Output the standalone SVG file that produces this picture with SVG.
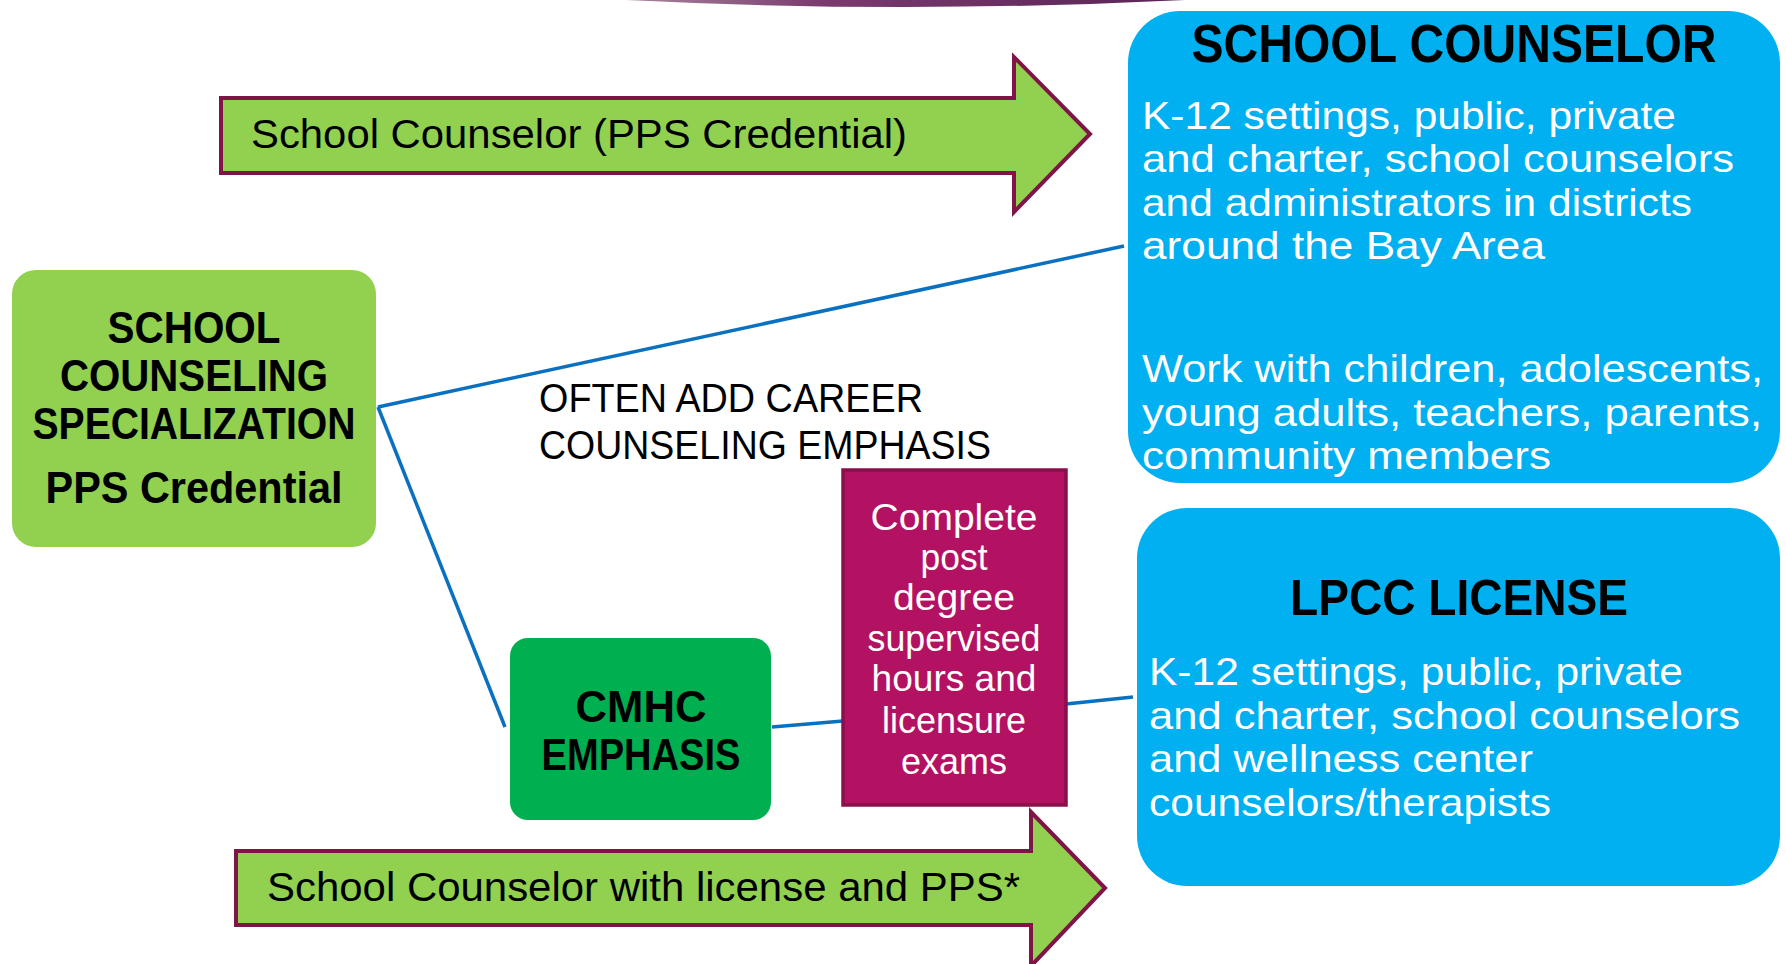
<svg xmlns="http://www.w3.org/2000/svg" width="1786" height="964" viewBox="0 0 1786 964">
<defs>
<linearGradient id="arcg" x1="0" y1="0" x2="1" y2="0">
<stop offset="0" stop-color="#a888a0"/>
<stop offset="0.35" stop-color="#7a3a6e"/>
<stop offset="1" stop-color="#5a2456"/>
</linearGradient>
</defs>
<style>
.arrow{fill:#92d050;stroke:#7f1447;stroke-width:4;stroke-linejoin:miter}
.conn{stroke:#0a70c0;stroke-width:3.5;fill:none}
.t{font-family:"Liberation Sans",Arial,sans-serif}
.b{font-weight:bold;fill:#000}
.w{fill:#fff}
.k{fill:#000}
</style>
<rect width="1786" height="964" fill="#fff"/>
<path d="M626,0 Q905,14 1185,0 Z" fill="url(#arcg)"/>

<g id="connectors">
<line class="conn" x1="378" y1="407" x2="1124" y2="246"/>
<line class="conn" x1="378" y1="407" x2="505" y2="727"/>
<line class="conn" x1="772" y1="727" x2="843" y2="721"/>
<line class="conn" x1="1066" y1="704" x2="1133" y2="697"/>
</g>

<g id="arrow-top">
<polygon class="arrow" points="221,98 1014,98 1014,57 1090,134 1014,212 1014,173 221,173"/>
<text class="t k" x="251" y="148" font-size="40" textLength="656" lengthAdjust="spacingAndGlyphs">School Counselor (PPS Credential)</text>
</g>

<g id="arrow-bottom">
<polygon class="arrow" points="236,851 1031,851 1031,812 1105,888 1031,966 1031,925 236,925"/>
<text class="t k" x="267" y="901" font-size="40" textLength="753" lengthAdjust="spacingAndGlyphs">School Counselor with license and PPS*</text>
</g>

<g id="node-specialization">
<rect x="12" y="270" width="364" height="277" rx="24" fill="#92d050"/>
<text class="t b" x="194" y="343" font-size="45" text-anchor="middle" textLength="173" lengthAdjust="spacingAndGlyphs">SCHOOL</text>
<text class="t b" x="194" y="391" font-size="45" text-anchor="middle" textLength="268" lengthAdjust="spacingAndGlyphs">COUNSELING</text>
<text class="t b" x="194" y="439" font-size="45" text-anchor="middle" textLength="323" lengthAdjust="spacingAndGlyphs">SPECIALIZATION</text>
<text class="t b" x="194" y="503" font-size="45" text-anchor="middle" textLength="297" lengthAdjust="spacingAndGlyphs">PPS Credential</text>
</g>

<g id="label-career">
<text class="t k" x="539" y="412" font-size="41" textLength="384" lengthAdjust="spacingAndGlyphs">OFTEN ADD CAREER</text>
<text class="t k" x="539" y="459" font-size="41" textLength="452" lengthAdjust="spacingAndGlyphs">COUNSELING EMPHASIS</text>
</g>

<g id="node-cmhc">
<rect x="510" y="638" width="261" height="182" rx="18" fill="#00b050"/>
<text class="t b" x="641" y="722" font-size="45" text-anchor="middle" textLength="131" lengthAdjust="spacingAndGlyphs">CMHC</text>
<text class="t b" x="641" y="770" font-size="45" text-anchor="middle" textLength="199" lengthAdjust="spacingAndGlyphs">EMPHASIS</text>
</g>

<g id="node-postdegree">
<rect x="843" y="470" width="223" height="335" fill="#b31262" stroke="#8a0f4a" stroke-width="3.5"/>
<g class="t w" font-size="36" text-anchor="middle">
<text x="954" y="530" textLength="167" lengthAdjust="spacingAndGlyphs">Complete</text>
<text x="954" y="570" textLength="67" lengthAdjust="spacingAndGlyphs">post</text>
<text x="954" y="610" textLength="122" lengthAdjust="spacingAndGlyphs">degree</text>
<text x="954" y="651" textLength="173" lengthAdjust="spacingAndGlyphs">supervised</text>
<text x="954" y="691" textLength="165" lengthAdjust="spacingAndGlyphs">hours and</text>
<text x="954" y="733" textLength="144" lengthAdjust="spacingAndGlyphs">licensure</text>
<text x="954" y="774" textLength="106" lengthAdjust="spacingAndGlyphs">exams</text>
</g>
</g>

<g id="node-school-counselor">
<rect x="1128" y="11" width="652" height="472" rx="52" fill="#00b0f0"/>
<text class="t b" x="1454" y="62" font-size="53" text-anchor="middle" textLength="525" lengthAdjust="spacingAndGlyphs">SCHOOL COUNSELOR</text>
<g class="t w" font-size="39">
<text x="1142" y="129" textLength="534" lengthAdjust="spacingAndGlyphs">K-12 settings, public, private</text>
<text x="1142" y="172" textLength="592" lengthAdjust="spacingAndGlyphs">and charter, school counselors</text>
<text x="1142" y="216" textLength="550" lengthAdjust="spacingAndGlyphs">and administrators in districts</text>
<text x="1142" y="259" textLength="403" lengthAdjust="spacingAndGlyphs">around the Bay Area</text>
<text x="1142" y="382" textLength="621" lengthAdjust="spacingAndGlyphs">Work with children, adolescents,</text>
<text x="1142" y="426" textLength="620" lengthAdjust="spacingAndGlyphs">young adults, teachers, parents,</text>
<text x="1142" y="469" textLength="409" lengthAdjust="spacingAndGlyphs">community members</text>
</g>
</g>

<g id="node-lpcc">
<rect x="1137" y="508" width="643" height="378" rx="50" fill="#00b0f0"/>
<text class="t b" x="1459" y="615" font-size="50" text-anchor="middle" textLength="338" lengthAdjust="spacingAndGlyphs">LPCC LICENSE</text>
<g class="t w" font-size="39">
<text x="1149" y="685" textLength="534" lengthAdjust="spacingAndGlyphs">K-12 settings, public, private</text>
<text x="1149" y="729" textLength="591" lengthAdjust="spacingAndGlyphs">and charter, school counselors</text>
<text x="1149" y="772" textLength="384" lengthAdjust="spacingAndGlyphs">and wellness center</text>
<text x="1149" y="816" textLength="402" lengthAdjust="spacingAndGlyphs">counselors/therapists</text>
</g>
</g>
</svg>
